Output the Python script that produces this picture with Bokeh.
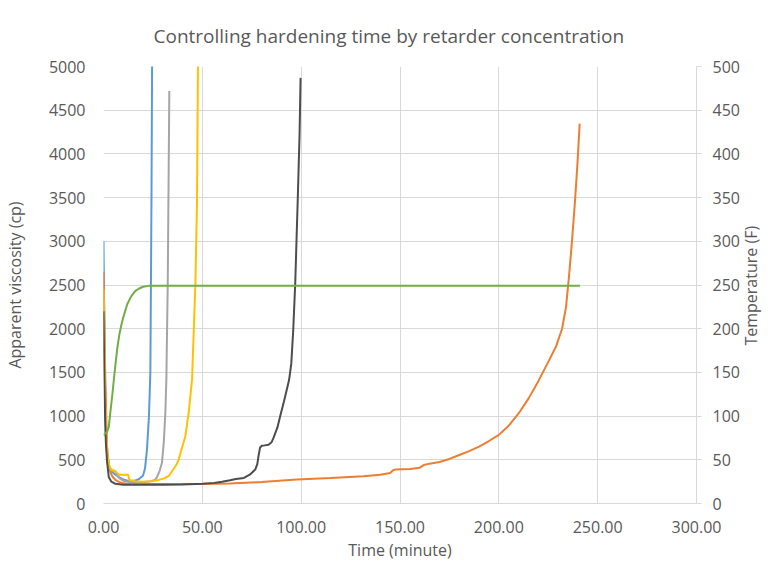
import math
from bokeh.plotting import figure
from bokeh.models import Range1d, LinearAxis, FixedTicker, NumeralTickFormatter
from bokeh.embed import file_html
from bokeh.resources import INLINE

# ---- data ----
t_blue = [0, 0.3, 0.7, 1.2, 2, 3, 4, 6, 8, 10, 13, 16, 18, 20, 21, 22, 23, 23.7, 24.0, 24.3, 24.6]
v_blue = [3000, 2300, 1500, 900, 560, 420, 370, 330, 300, 275, 255, 262, 280, 320, 400, 620, 1000, 1500, 2500, 3600, 5100]

t_orange = [0, 0.3, 0.7, 1, 1.5, 1.9, 2.7, 3.5, 4.4, 6, 8, 9.4, 12, 20, 30, 40, 50, 64, 80, 97.8, 115,
            131.5, 140, 145, 146.5, 147.5, 155, 160, 162, 165, 170, 175, 180, 185, 190, 195, 200, 205, 210,
            215, 220, 225, 229, 232, 234, 235.5, 237, 238.5, 239.8, 240.9]
v_orange = [2650, 2300, 1700, 1340, 900, 580, 420, 360, 312, 270, 245, 236, 225, 222, 222, 223, 224, 228, 245, 274, 292,
            312, 330, 350, 380, 388, 396, 410, 440, 456, 475, 510, 555, 600, 650, 715, 785, 890, 1030,
            1200, 1400, 1620, 1800, 2000, 2250, 2600, 3000, 3450, 3900, 4346]

t_grey = [0, 0.4, 0.8, 1.3, 2, 3, 4, 5, 6, 7, 8, 10, 13, 17, 21, 24, 26, 27, 28.5, 29.6, 30.5, 31.3, 31.8, 32.5, 33.3]
v_grey = [2400, 1700, 1100, 700, 500, 400, 375, 370, 365, 330, 290, 260, 245, 240, 245, 255, 270, 300, 380, 470, 700, 1040, 1420, 2520, 4720]

t_yellow = [0, 0.4, 0.9, 1.5, 2, 3, 4, 5, 6, 7, 8, 10, 12.5, 13, 16, 20, 24, 28, 31, 33, 35, 37, 38, 39.5, 41.4, 43.1, 44.8, 46.5, 47.3, 47.8]
v_yellow = [2450, 1800, 1150, 750, 560, 420, 390, 380, 370, 345, 330, 330, 330, 270, 255, 250, 255, 270, 290, 315, 380, 450, 500, 620, 770, 1040, 1420, 2520, 3440, 5100]

t_dark = [0, 0.4, 0.8, 1.2, 1.8, 2.7, 4, 6, 10, 20, 30, 40, 50, 56, 60, 64, 67, 71, 74, 76.8, 77.8, 78.4, 79.2, 80.1,
          81.5, 83.5, 85, 86, 88, 89.4, 91, 91.9, 93.9, 95, 96, 97, 97.5, 98.3, 99.2, 99.7]
v_dark = [2200, 1500, 1000, 700, 480, 300, 250, 225, 215, 215, 215, 218, 225, 236, 250, 266, 280, 293, 330, 390, 450, 540, 640, 660,
          665, 673, 700, 750, 870, 1000, 1140, 1225, 1415, 1600, 1990, 2520, 2900, 3500, 4235, 4870]

t_temp = [0, 1, 2, 2.7, 3.5, 4.5, 5.2, 6, 7, 8, 9, 10, 12, 14, 16, 18, 20, 23, 26, 30, 60, 100, 150, 200, 241]
temp_F = [78, 80, 83, 88, 105, 125, 141, 158, 178, 193, 204, 213, 228, 237, 243, 246, 248, 249, 249, 249, 249, 249, 249, 249, 249]

x_ticks = [0, 50, 100, 150, 200, 250, 300]
y_ticks = [0, 500, 1000, 1500, 2000, 2500, 3000, 3500, 4000, 4500, 5000]
temp_ticks = [0, 50, 100, 150, 200, 250, 300, 350, 400, 450, 500]

FONT = "Open Sans"
TXT = "#595959"
GRID = "#d9d9d9"

p = figure(width=775, height=563, output_backend="svg", toolbar_location=None,
           x_range=Range1d(0, 300), y_range=Range1d(0, 5000),
           title="Controlling hardening time by retarder concentration")
p.min_border_left = 103
p.min_border_right = 78
p.min_border_top = 66
p.min_border_bottom = 59
p.outline_line_color = None
p.background_fill_color = "white"
p.border_fill_color = "white"

p.title.text_font = FONT
p.title.text_font_size = "19px"
p.title.text_font_style = "normal"
p.title.text_color = TXT
p.title.align = "left"
p.title.offset = 50
p.title.standoff = 35

p.extra_y_ranges = {"temp": Range1d(0, 500)}

# left axis
ya = p.yaxis[0]
ya.ticker = FixedTicker(ticks=y_ticks)
ya.axis_label = "Apparent viscosity (cp)"
ya.axis_line_color = None
ya.major_tick_line_color = None
ya.minor_tick_line_color = None
ya.major_tick_out = 0
ya.major_tick_in = 0
ya.major_label_standoff = 18
ya.axis_label_standoff = 20

# bottom axis
xa = p.xaxis[0]
xa.ticker = FixedTicker(ticks=x_ticks)
xa.formatter = NumeralTickFormatter(format="0.00")
xa.axis_label = "Time (minute)"
xa.axis_line_color = GRID
xa.major_tick_line_color = None
xa.minor_tick_line_color = None
xa.major_tick_out = 0
xa.major_tick_in = 0
xa.major_label_standoff = 17
xa.axis_label_standoff = 3

# right axis
ra = LinearAxis(y_range_name="temp", ticker=FixedTicker(ticks=temp_ticks))
ra.axis_line_color = GRID
ra.major_tick_line_color = GRID
ra.major_tick_out = 5
ra.major_tick_in = 0
ra.minor_tick_line_color = None
ra.major_label_standoff = 11
ra.axis_label_standoff = 8
props = LinearAxis.properties()
if "axis_label_orientation" in props and "axis_label_align" in props:
    # text reads bottom-to-top and starts at the bottom of the axis;
    # non-breaking spaces lift it so it sits centred on the axis
    ra.axis_label = "\u00a0" * 38 + "Temperature (F)"
    ra.axis_label_orientation = math.pi / 2
    ra.axis_label_align = "start"
else:
    ra.axis_label = "Temperature (F)"
p.add_layout(ra, "right")

for ax in (ya, xa, ra):
    ax.major_label_text_font = FONT
    ax.major_label_text_font_size = "16px"
    ax.major_label_text_color = TXT
    ax.axis_label_text_font = FONT
    ax.axis_label_text_font_size = "16px"
    ax.axis_label_text_font_style = "normal"
    ax.axis_label_text_color = TXT

p.xgrid.ticker = FixedTicker(ticks=x_ticks)
p.ygrid.ticker = FixedTicker(ticks=y_ticks)
p.xgrid.grid_line_color = GRID
p.ygrid.grid_line_color = GRID
p.xgrid.grid_line_width = 1
p.ygrid.grid_line_width = 1

LW = 2
p.line(t_blue, v_blue, line_color="#5B9BD5", line_width=LW)
p.line(t_orange, v_orange, line_color="#ED7D31", line_width=LW)
p.line(t_grey, v_grey, line_color="#A5A5A5", line_width=LW)
p.line(t_yellow, v_yellow, line_color="#FFC000", line_width=LW)
p.line(t_dark, v_dark, line_color="#4D4D4D", line_width=LW)
p.line(t_temp, temp_F, line_color="#70AD47", line_width=LW, y_range_name="temp")

open("out.html", "w").write(file_html(p, INLINE))
